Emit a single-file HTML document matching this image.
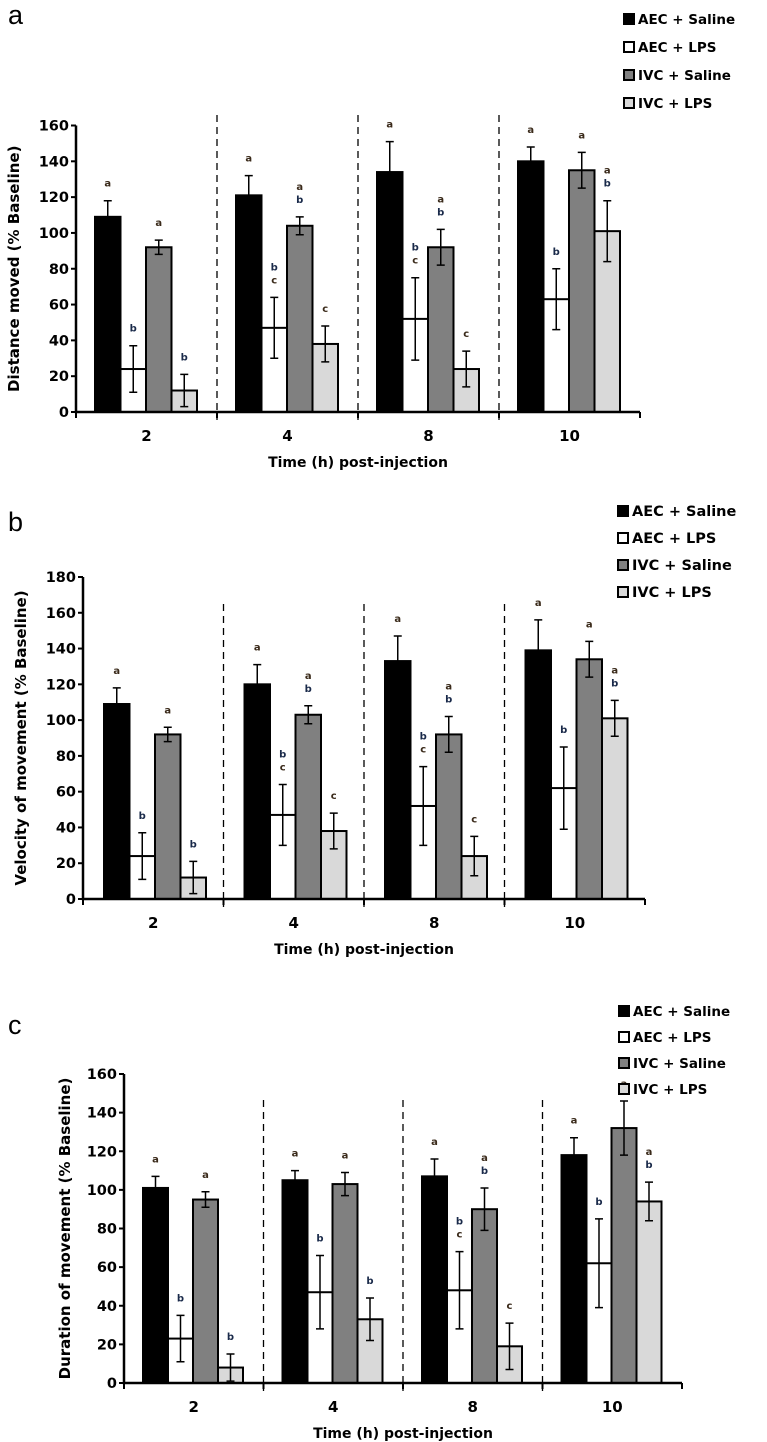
<!DOCTYPE html>
<html><head><meta charset="utf-8">
<style>
html,body{margin:0;padding:0;background:#fff;}
svg{display:block;font-family:"DejaVu Sans","Liberation Sans",sans-serif;}
.t{font-weight:bold;}
</style></head>
<body>
<svg id="fig" width="767" height="1442" viewBox="0 0 767 1442" xmlns="http://www.w3.org/2000/svg"></svg>
<script>
const categories = ["2","4","8","10"];
const seriesNames = ["AEC + Saline","AEC + LPS","IVC + Saline","IVC + LPS"];
// Panel a: distance moved
const aMeans = [[109,24,92,12],[121,47,104,38],[134,52,92,24],[140,63,135,101]];
const aErrs  = [[9,13,4,9],[11,17,5,10],[17,23,10,10],[8,17,10,17]];
const aLetters = [["a","b","a","b"],["a","b c","a b","c"],["a","b c","a b","c"],["a","b","a","a b"]];
const aTicks = [0,20,40,60,80,100,120,140,160];
// Panel b: velocity
const bMeans = [[109,24,92,12],[120,47,103,38],[133,52,92,24],[139,62,134,101]];
const bErrs  = [[9,13,4,9],[11,17,5,10],[14,22,10,11],[17,23,10,10]];
const bLetters = [["a","b","a","b"],["a","b c","a b","c"],["a","b c","a b","c"],["a","b","a","a b"]];
const bTicks = [0,20,40,60,80,100,120,140,160,180];
// Panel c: duration
const cMeans = [[101,23,95,8],[105,47,103,33],[107,48,90,19],[118,62,132,94]];
const cErrs  = [[6,12,4,7],[5,19,6,11],[9,20,11,12],[9,23,14,10]];
const cLetters = [["a","b","a","b"],["a","b","a","b"],["a","b c","a b","c"],["a","b","a","a b"]];
const cTicks = [0,20,40,60,80,100,120,140,160];

const fills = ["#000000","#ffffff","#808080","#d9d9d9"];
const NS = "http://www.w3.org/2000/svg";
const svg = document.getElementById("fig");
function mk(tag, attrs, parent, txt){
  const e = document.createElementNS(NS, tag);
  for (const k in attrs) e.setAttribute(k, attrs[k]);
  if (txt !== undefined) e.textContent = txt;
  (parent||svg).appendChild(e);
  return e;
}

function panel(cfg){
  const g = mk("g", {});
  
  
  const ymax = cfg.ticks[cfg.ticks.length-1];
  const y = v => cfg.y0 - (v / ymax) * (cfg.y0 - cfg.yTop);
  const gx = i => cfg.x0 + i * cfg.gw;
  const pl = mk("text", {x: 8, y: cfg.letterY, "font-size": 27, "font-family": "Liberation Sans, sans-serif"}, g, cfg.id);
  
  
  for (let i = 1; i < categories.length; i++) {
    const d = mk("line", {x1: gx(i), x2: gx(i), y1: cfg.dashTop, y2: cfg.y0 + 8, stroke: "#000", "stroke-width": 1.3, "stroke-dasharray": "7,5"}, g);
    
    
  }
  categories.forEach((c, i) => {
    for (let s = 0; s < 4; s++) {
      const v = cfg.means[i][s], e = cfg.errs[i][s];
      const bx = gx(i) + cfg.off + s * cfg.bw;
      const r = mk("rect", {x: bx, y: y(v), width: cfg.bw, height: cfg.y0 - y(v), fill: fills[s], stroke: "#000", "stroke-width": 2}, g);
      
      
      const cx = bx + cfg.bw / 2;
      const eb = mk("path", {d: `M${cx},${y(v+e)}V${y(v-e)}M${cx-4},${y(v+e)}H${cx+4}M${cx-4},${y(v-e)}H${cx+4}`, stroke: "#000", "stroke-width": 1.5, fill: "none"}, g);
      
      
      const parts = cfg.letters[i][s].split(" ");
      const top = y(v + e) - 14 - (parts.length - 1) * 13;
      parts.forEach((p, k) => {
        const lt = mk("text", {x: cx, y: top + k * 13, "font-size": 10, "text-anchor": "middle", class: "t", fill: p === "b" ? "#1a2a4a" : "#3a2a1a"}, g, p);
        
        
      });
    }
    const xl = mk("text", {x: gx(i) + cfg.gw / 2, y: cfg.y0 + 29, "font-size": 15, "text-anchor": "middle", class: "t"}, g, c);
    
    
  });
  const ax = mk("path", {d: `M${cfg.x0},${cfg.yTop}V${cfg.y0}H${gx(4)}`, stroke: "#000", "stroke-width": 2.5, fill: "none"}, g);
  
  
  for (let i = 0; i <= 4; i++) {
    const tk = mk("line", {x1: gx(i), x2: gx(i), y1: cfg.y0, y2: cfg.y0 + 6, stroke: "#000", "stroke-width": 2}, g);
    
    
  }
  cfg.ticks.forEach(t => {
    const tk = mk("line", {x1: cfg.x0 - 5, x2: cfg.x0, y1: y(t), y2: y(t), stroke: "#000", "stroke-width": 2}, g);
    
    
    const tl = mk("text", {x: cfg.x0 - 7, y: y(t) + 5, "font-size": 14.5, "text-anchor": "end", class: "t"}, g, String(t));
    
    
  });
  const yt = mk("text", {x: 0, y: 0, "font-size": 15, "text-anchor": "middle", class: "t", transform: `translate(${cfg.ytX},${(cfg.y0 + cfg.yTop)/2}) rotate(-90)`}, g, cfg.ytitle);
  
  
  const xt = mk("text", {x: (cfg.x0 + gx(4)) / 2, y: cfg.y0 + 55, "font-size": 14, "text-anchor": "middle", class: "t"}, g, "Time (h) post-injection");
  
  
  seriesNames.forEach((n, s) => {
    const ly = cfg.legY + s * cfg.legDy;
    const le = mk("g", {}, g);
    
    
    mk("rect", {x: cfg.legX, y: ly - 10, width: 10, height: 10, fill: fills[s], stroke: "#000", "stroke-width": 2}, le);
    mk("text", {x: cfg.legX + 14, y: ly, "font-size": cfg.legFs, class: "t"}, le, n);
  });
}

panel({id:"a", means:aMeans, errs:aErrs, letters:aLetters, ticks:aTicks, x0:76, gw:141, off:19, bw:25.5,
  y0:412, yTop:125.5, dashTop:115, letterY:24, ytX:19, ytitle:"Distance moved (% Baseline)",
  legX:624, legY:24, legDy:28, legFs:13.5});
panel({id:"b", means:bMeans, errs:bErrs, letters:bLetters, ticks:bTicks, x0:83, gw:140.5, off:21, bw:25.5,
  y0:899, yTop:577, dashTop:604, letterY:531, ytX:26, ytitle:"Velocity of movement (% Baseline)",
  legX:618, legY:516, legDy:27, legFs:14.5});
panel({id:"c", means:cMeans, errs:cErrs, letters:cLetters, ticks:cTicks, x0:124, gw:139.5, off:19, bw:25,
  y0:1383, yTop:1074, dashTop:1100, letterY:1034, ytX:70, ytitle:"Duration of movement (% Baseline)",
  legX:619, legY:1016, legDy:26, legFs:13.5});
</script>
</body></html>
